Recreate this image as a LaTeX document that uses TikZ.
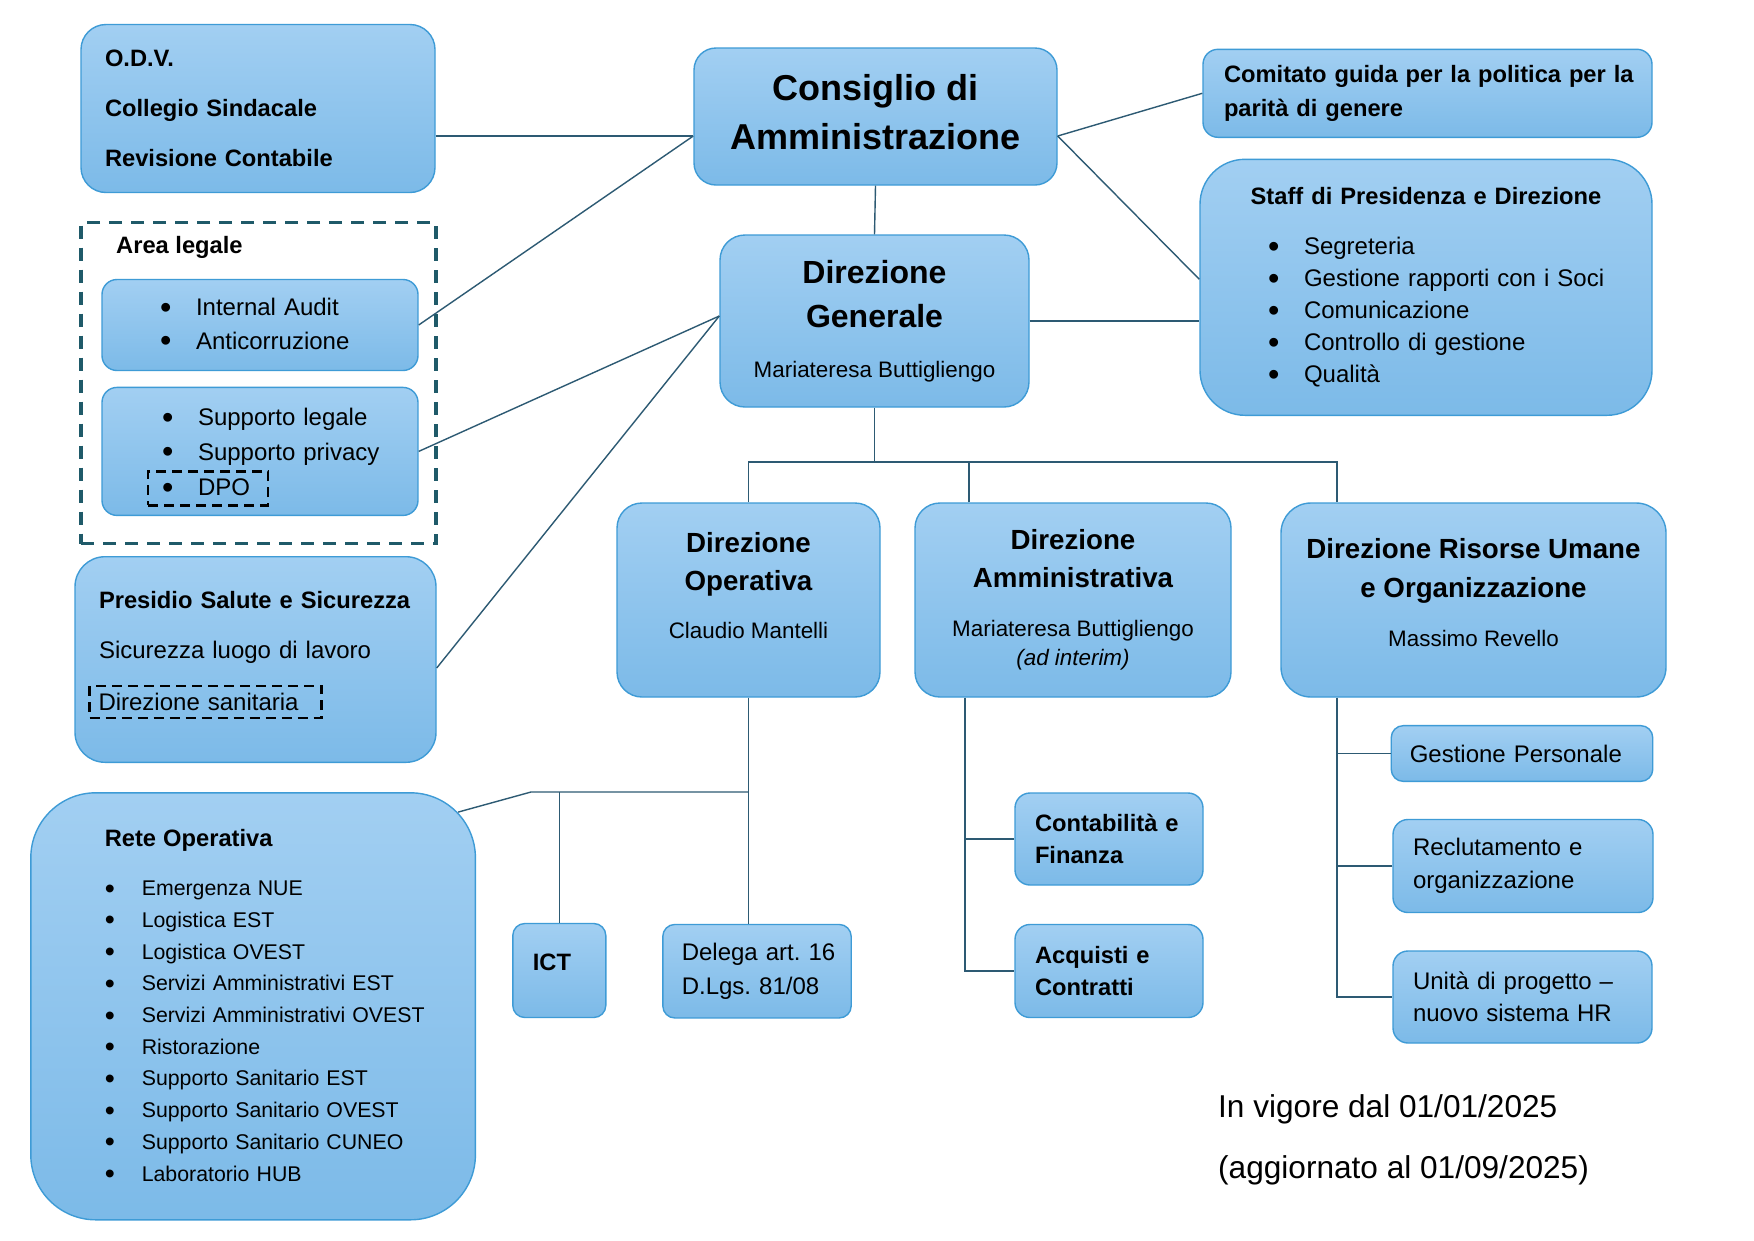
\documentclass[tikz,border=0pt]{standalone}
\usepackage{fontspec}
\setmainfont{Liberation Sans}
\frenchspacing

\definecolor{azzurrochiaro}{RGB}{162,207,242}
\definecolor{azzurro}{RGB}{124,186,232}
\definecolor{bordo}{RGB}{62,155,214}
\definecolor{lineacol}{RGB}{45,90,115}
\definecolor{verdeacqua}{RGB}{31,90,105}

\newcommand{\dimfont}[2]{\fontsize{#1}{#2}\selectfont}
\newcommand{\voce}[2][36pt]{\mbox{\makebox[#1][l]{\raisebox{-0.12em}{\scalebox{1.35}{\textbullet}}}#2}}
\newcommand{\nome}[1]{{\mdseries\fontsize{22.4}{30}\selectfont #1}}
\newcommand{\grassetto}[1]{{\bfseries\fontsize{23.7}{30}\selectfont #1}}

\tikzset{
    box/.style = {
        draw=bordo,
        line width=1.4pt,
        top color=azzurrochiaro,
        bottom color=azzurro,
        inner ysep=0pt,
        rounded corners=15pt
    },
    tratteggio/.style = {
        draw=black,
        line width=2.6pt,
        dash pattern=on 10pt off 6pt,
        inner ysep=0pt
    },
    filo/.style = {
        draw=lineacol,
        line width=1.4pt
    },
}

\begin{document}
\begin{tikzpicture}[x=1pt, y=-1pt]
    \fill[white] (0,0) rectangle (1754,1240);

    % vertice
    \node[box, rounded corners=22pt, minimum width=363pt, minimum height=137pt, align=center, font={\bfseries\dimfont{36}{49}}] (cons) at (875.5,116.5) {Consiglio di\\Amministrazione\\[-40pt]\mbox{}};
    \node[box, rounded corners=25pt, minimum width=309pt, minimum height=172pt, align=center, font={\bfseries\dimfont{32}{44}}] (dg) at (874.5,321) {Direzione\\Generale\\[6pt]\nome{Mariateresa Buttigliengo}};

    % colonna sinistra
    \node[box, rounded corners=25pt, minimum width=354pt, minimum height=168pt, text width=306pt, inner xsep=24pt, align=left, font={\bfseries\dimfont{23.7}{50}}] (odv) at (258,108.5) {O.D.V.\\Collegio Sindacale\\Revisione Contabile};
    \node[draw=verdeacqua, line width=3.2pt, dash pattern=on 13pt off 9pt, minimum width=355pt, minimum height=321pt] (legale) at (258.5,383.2) {};
    \node[anchor=west, inner sep=0pt, font={\bfseries\dimfont{23.7}{30}}] (legaletit) at (116,247) {Area legale};
    \node[box, minimum width=316pt, minimum height=91pt, text width=200pt, inner xsep=58pt, align=left, font=\dimfont{24}{33.6}] (audit) at (260,325) {\voce{Internal Audit}\\\voce{Anticorruzione}};
    \node[box, minimum width=316pt, minimum height=128pt, text width=196pt, inner xsep=60pt, align=left, font=\dimfont{24}{34.6}] (supp) at (260,451.4) {\voce{Supporto legale}\\\voce{Supporto privacy}\\\mbox{}};
    \node[tratteggio, minimum width=120pt, minimum height=34pt, text width=92pt, inner xsep=14pt, align=left, font=\dimfont{24}{30}] (dpo) at (208,488.2) {\voce{DPO}};
    \node[box, rounded corners=30pt, minimum width=361pt, minimum height=205.6pt, text width=313pt, inner xsep=24pt, align=left, font=\dimfont{24}{50}] (presidio) at (255.5,659.5) {\grassetto{Presidio Salute e Sicurezza}\\Sicurezza luogo di lavoro\\[18.5pt]\mbox{}};
    \node[tratteggio, minimum width=232pt, minimum height=32pt, text width=214pt, inner xsep=9pt, align=left, font=\dimfont{24}{30}] (dsan) at (205.5,702) {Direzione sanitaria};

    % colonna destra
    \node[box, minimum width=449pt, minimum height=88pt, text width=407pt, inner xsep=21pt, align=left, font={\bfseries\dimfont{23.7}{33.7}}] (com) at (1427.5,93.3) {\mbox{Comitato guida per la politica per la}\\parità di genere};
    \node[box, rounded corners=45pt, minimum width=452pt, minimum height=256pt, text width=316pt, inner xsep=68pt, align=left, font=\dimfont{24}{32}] (staff) at (1426,287.3) {\makebox[\linewidth][c]{\grassetto{Staff di Presidenza e Direzione}}\\[18.5pt]\voce{Segreteria}\\\voce{Gestione rapporti con i Soci}\\\voce{Comunicazione}\\\voce{Controllo di gestione}\\\voce{Qualità}};

    % direzioni
    \node[box, rounded corners=25pt, minimum width=263pt, minimum height=194pt, align=center, font={\bfseries\dimfont{27.7}{38.5}}] (dop) at (748.5,600) {Direzione\\Operativa\\[9.5pt]\nome{Claudio Mantelli}\\[-9.5pt]\mbox{}};
    \node[box, rounded corners=25pt, minimum width=316pt, minimum height=194pt, align=center, font={\bfseries\dimfont{27.7}{38.5}}] (dam) at (1073,600) {Direzione\\Amministrativa\\[10pt]\nome{Mariateresa Buttigliengo}\\[-9pt]\nome{\itshape (ad interim)}};
    \node[box, rounded corners=30pt, minimum width=385pt, minimum height=194pt, align=center, font={\bfseries\dimfont{27.7}{38.5}}] (dru) at (1473.5,600) {Direzione Risorse Umane\\e Organizzazione\\[10.5pt]\nome{Massimo Revello}\\[-23pt]\mbox{}};

    % area operativa
    \node[box, rounded corners=65pt, minimum width=444.6pt, minimum height=427pt, text width=296.6pt, inner xsep=74pt, align=left, font=\dimfont{21.3}{31.7}] (rete) at (253.1,1006.3) {\grassetto{Rete Operativa}\\[17.8pt]\voce[37pt]{Emergenza NUE}\\\voce[37pt]{Logistica EST}\\\voce[37pt]{Logistica OVEST}\\\voce[37pt]{Servizi Amministrativi EST}\\\voce[37pt]{Servizi Amministrativi OVEST}\\\voce[37pt]{Ristorazione}\\\voce[37pt]{Supporto Sanitario EST}\\\voce[37pt]{Supporto Sanitario OVEST}\\\voce[37pt]{Supporto Sanitario CUNEO}\\\voce[37pt]{Laboratorio HUB}};
    \node[box, rounded corners=12pt, minimum width=93pt, minimum height=94pt, text width=53pt, inner xsep=20pt, align=left, font={\bfseries\dimfont{23.7}{33.7}}] (ict) at (559.3,970.5) {ICT\\[-16.7pt]\mbox{}};
    \node[box, rounded corners=12pt, minimum width=188.4pt, minimum height=93.5pt, text width=150.4pt, inner xsep=19pt, align=left, font=\dimfont{24}{33.7}] (delega) at (757,971.2) {\mbox{Delega art. 16}\\D.Lgs. 81/08};

    % area amministrativa
    \node[box, minimum width=188pt, minimum height=92pt, text width=148pt, inner xsep=20pt, align=left, font={\bfseries\dimfont{23.7}{32.8}}] (cfin) at (1109,839) {Contabilità e\\Finanza};
    \node[box, minimum width=188pt, minimum height=93pt, text width=148pt, inner xsep=20pt, align=left, font={\bfseries\dimfont{23.7}{32.4}}] (acq) at (1109,971) {Acquisti e\\Contratti};

    % area risorse umane
    \node[box, rounded corners=12pt, minimum width=261.5pt, minimum height=55.7pt, text width=224.5pt, inner xsep=18.5pt, align=left, font=\dimfont{24}{30}] (gpers) at (1522,753.5) {Gestione Personale};
    \node[box, minimum width=260pt, minimum height=93pt, text width=220pt, inner xsep=20pt, align=left, font=\dimfont{24}{32.8}] (recl) at (1523,866) {Reclutamento e\\organizzazione};
    \node[box, minimum width=259pt, minimum height=92pt, text width=219pt, inner xsep=20pt, align=left, font=\dimfont{24}{32.5}] (unita) at (1522.5,997) {Unità di progetto –\\nuovo sistema HR};

    \node[anchor=west, inner sep=0pt, align=left, font=\dimfont{31.6}{61}] (vigore) at (1218,1140) {In vigore dal 01/01/2025\\(aggiornato al 01/09/2025)};

    % collegamenti
    \coordinate (consW) at ([yshift=-19.5pt]cons.west);
    \coordinate (consE) at ([yshift=-19.5pt]cons.east);
    \coordinate (dgW) at ([yshift=5pt]dg.west);
    \path[filo] (odv.east |- consW) -- (consW);
    \path[filo] (audit.east) -- (consW);
    \path[filo] (supp.east) -- (dgW);
    \path[filo] ([yshift=-8.5pt]presidio.east) -- (dgW);
    \path[filo] (consE) -- (com.west);
    \path[filo] (consE) -- ([yshift=8pt]staff.west);
    \path[filo] (cons.south) -- (dg.north);
    \path[filo] (dg.east) -- (dg.east -| staff.west);

    \coordinate (bus) at (877,462);
    \coordinate (damN) at ([xshift=-104pt]dam.north);
    \coordinate (druN) at ([xshift=-136.5pt]dru.north);
    \path[filo] (dg.south) -- (dg.south |- bus);
    \path[filo] (dop.north) -- (dop.north |- bus) -- (bus -| druN) -- (druN);
    \path[filo] (damN) -- (damN |- bus);

    \coordinate (opbus) at (748.5,792);
    \coordinate (ginocchio) at (531,792);
    \path[filo] (dop.south) -- (dop.south |- delega.north);
    \path[filo] (opbus) -- (ginocchio) -- ([xshift=-18pt,yshift=-20pt]rete.north east);
    \path[filo] (ict.north) -- (ict.north |- opbus);

    \coordinate (damS) at ([xshift=-108pt]dam.south);
    \path[filo] (damS) |- (acq.west);
    \path[filo] (cfin.west) -- (cfin.west -| damS);

    \coordinate (druS) at ([xshift=-136.5pt]dru.south);
    \path[filo] (druS) |- (unita.west);
    \path[filo] (gpers.west) -- (gpers.west -| druS);
    \path[filo] (recl.west) -- (recl.west -| druS);
\end{tikzpicture}
\end{document}
